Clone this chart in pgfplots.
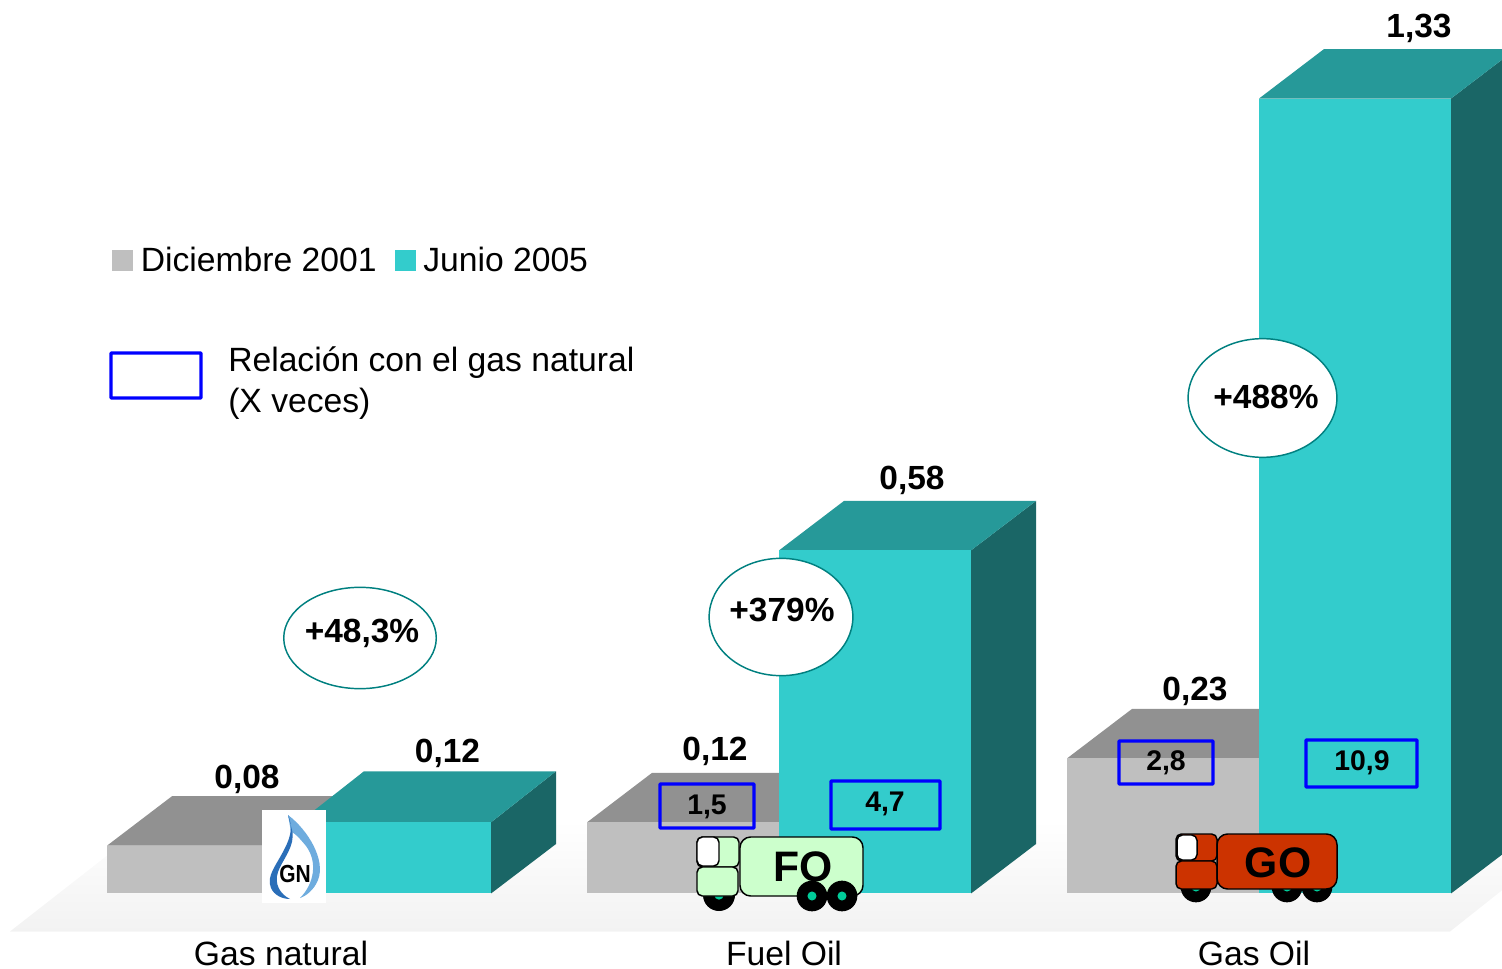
\documentclass[border=0pt]{standalone}
\usepackage{graphicx}
\usepackage{fontspec}
\setmainfont{Liberation Sans}
\usepackage{pgfplots}
\pgfplotsset{compat=1.18}
\definecolor{gfront}{HTML}{BFBFBF}
\definecolor{gtop}{HTML}{919191}
\definecolor{gside}{HTML}{808080}
\definecolor{tfront}{HTML}{33CCCC}
\definecolor{ttop}{HTML}{269999}
\definecolor{tside}{HTML}{1A6666}
\definecolor{floorc}{HTML}{F2F2F2}
\definecolor{oval}{HTML}{008080}
\definecolor{hub}{HTML}{00CC99}
\definecolor{fog}{HTML}{CCFFCC}
\definecolor{gor}{HTML}{CC3300}
\definecolor{flameL}{HTML}{6EACDE}
\definecolor{flameD}{HTML}{2A6EB8}
\newcommand{\reg}{\fontsize{25.25}{30}\selectfont}
\newcommand{\bld}{\fontsize{25.1}{30}\selectfont\bfseries}
\newcommand{\sml}{\fontsize{21.3}{25}\selectfont\bfseries}
\newcommand{\bigb}{\fontsize{32}{38}\selectfont\bfseries}
\begin{document}
\begin{tikzpicture}
\path[use as bounding box] (0,0) rectangle (1126.5pt,726.75pt);
\begin{axis}[scale only axis,width=1126.5pt,height=726.75pt,hide axis,
  xmin=0,xmax=1502,ymin=-0.12632,ymax=1.4949]
% floor
\addplot[draw=none,top color=white,bottom color=floorc] coordinates {(10,-0.0636)(1450,-0.0636)(1590,0.1221)(152,0.1221)};
% Gas natural
\addplot[draw=none,fill=gside] coordinates {(299,0)(364,0.0828)(364,0.1628)(299,0.08)};
\addplot[draw=none,fill=gtop] coordinates {(107,0.08)(299,0.08)(364,0.1628)(172,0.1628)};
\addplot[draw=none,fill=gfront] coordinates {(107,0)(299,0)(299,0.08)(107,0.08)};
\addplot[draw=none,fill=tside] coordinates {(491,0)(556,0.0828)(556,0.2045)(491,0.119)};
\addplot[draw=none,fill=ttop] coordinates {(299,0.119)(491,0.119)(556,0.2045)(364,0.2045)};
\addplot[draw=none,fill=tfront] coordinates {(299,0)(491,0)(491,0.119)(299,0.119)};
% Fuel Oil
\addplot[draw=none,fill=gtop] coordinates {(587,0.119)(779,0.119)(844,0.2018)(652,0.2018)};
\addplot[draw=none,fill=gfront] coordinates {(587,0)(779,0)(779,0.119)(587,0.119)};
\addplot[draw=none,fill=tside] coordinates {(971,0)(1036,0.0828)(1036,0.6568)(971,0.574)};
\addplot[draw=none,fill=ttop] coordinates {(779,0.574)(971,0.574)(1036,0.6568)(844,0.6568)};
\addplot[draw=none,fill=tfront] coordinates {(779,0)(971,0)(971,0.574)(779,0.574)};
% Gas Oil
\addplot[draw=none,fill=gtop] coordinates {(1067,0.226)(1259,0.226)(1324,0.3088)(1132,0.3088)};
\addplot[draw=none,fill=gfront] coordinates {(1067,0)(1259,0)(1259,0.226)(1067,0.226)};
\addplot[draw=none,fill=tside] coordinates {(1451,0)(1516,0.0828)(1516,1.4128)(1451,1.33)};
\addplot[draw=none,fill=ttop] coordinates {(1259,1.33)(1451,1.33)(1516,1.4128)(1324,1.4128)};
\addplot[draw=none,fill=tfront] coordinates {(1259,0)(1451,0)(1451,1.33)(1259,1.33)};
% value labels
\addplot[only marks,mark=none,point meta=explicit symbolic,nodes near coords,
  every node near coord/.append style={anchor=base,inner sep=0pt,font=\bld,text=black}]
 table[meta=lab] {
x y lab
247 0.1758 0,08
447.5 0.2192 0,12
715 0.2225 0,12
912 0.676 0,58
1195 0.3229 0,23
1419 1.4322 1,33
};
\end{axis}
\begin{axis}[scale only axis,width=1126.5pt,height=726.75pt,hide axis,clip=false,
  xmin=0,xmax=1502,ymin=0,ymax=969,y dir=reverse]
% legend
\fill[gfront] (112,250) rectangle (133,271);
\fill[tfront] (395,250) rectangle (416,271);
\node[anchor=base west,inner sep=0pt,font=\reg] at (140.5,272) {Diciembre 2001};
\node[anchor=base west,inner sep=0pt,font=\reg] at (423,272) {Junio 2005};
\draw[blue,line width=2.5pt,rounded corners=0.6pt] (111,353) rectangle (201,398);
\node[anchor=base west,inner sep=0pt,font=\reg] at (228,372) {Relación con el gas natural};
\node[anchor=base west,inner sep=0pt,font=\reg] at (228,413) {(X veces)};
% ovals
\draw[oval,fill=white,line width=1.1pt] (360,638) ellipse [x radius=57.2pt,y radius=38pt];
\draw[oval,fill=white,line width=1.1pt] (781,617) ellipse [x radius=53.9pt,y radius=44pt];
\draw[oval,fill=white,line width=1.1pt] (1262.5,398) ellipse [x radius=55.8pt,y radius=44.5pt];
\node[anchor=base,inner sep=0pt,font=\bld] at (362,642) {+48,3\%};
\node[anchor=base,inner sep=0pt,font=\bld] at (782,621.5) {+379\%};
\node[anchor=base,inner sep=0pt,font=\bld] at (1266,408.5) {+488\%};
% ratio boxes
\draw[blue,line width=2.5pt,rounded corners=0.6pt] (660,784) rectangle (754,828);
\draw[blue,line width=2.5pt,rounded corners=0.6pt] (831,781) rectangle (940,829);
\draw[blue,line width=2.5pt,rounded corners=0.6pt] (1119,741) rectangle (1213,784);
\draw[blue,line width=2.5pt,rounded corners=0.6pt] (1306,740) rectangle (1417,787);
\node[anchor=base,inner sep=0pt,font=\sml] at (707,814) {1,5};
\node[anchor=base,inner sep=0pt,font=\sml] at (885,811) {4,7};
\node[anchor=base,inner sep=0pt,font=\sml] at (1166,770) {2,8};
\node[anchor=base,inner sep=0pt,font=\sml] at (1362,770) {10,9};
% GN logo
\fill[white] (262,810) rectangle (326,903);
\fill[flameL]
  (288,815) .. controls (308,830) and (326,860) .. (318,880) .. controls (314,890) and (306,896) .. (300,898)
  .. controls (314,884) and (318,862) .. (306,846) .. controls (298,836) and (293,832) .. (291,832) -- cycle;
\fill[flameD]
  (288,815) .. controls (293,826) and (291,836) .. (285,848) .. controls (276,866) and (266,876) .. (271,888)
  .. controls (274,895) and (282,899) .. (290,899) .. controls (280,894) and (274,884) .. (278,872)
  .. controls (282,860) and (296,846) .. (292,830) -- cycle;
\node[inner sep=0pt,font=\fontsize{18.5}{22}\selectfont\bfseries] at (295,874) {\scalebox{0.85}[1]{GN}};
% FO truck
\fill[black] (719,895) circle[radius=12pt];
\fill[hub] (719,895) circle[radius=3.5pt];
\draw[black,line width=1.1pt,fill=fog,rounded corners=4pt] (697,837) rectangle (739,867);
\draw[black,line width=1.1pt,fill=white,rounded corners=4pt] (697,837) rectangle (719,866);
\draw[black,line width=1.1pt,fill=fog,rounded corners=4pt] (697,867) rectangle (738,896);
\draw[black,line width=1.1pt,fill=fog,rounded corners=8pt] (740,837) rectangle (863,896);
\node[anchor=base,inner sep=0pt,font=\bigb] at (803,881) {FO};
\fill[black] (812,896) circle[radius=11.5pt];
\fill[black] (842,896) circle[radius=11.5pt];
\fill[hub] (812,896) circle[radius=3.4pt];
\fill[hub] (842,896) circle[radius=3.4pt];
% GO truck
\fill[black] (1196,887) circle[radius=11.5pt];
\fill[black] (1287,887) circle[radius=11.5pt];
\fill[black] (1317,887) circle[radius=11.5pt];
\fill[hub] (1196,887) circle[radius=3.4pt];
\fill[hub] (1287,887) circle[radius=3.4pt];
\fill[hub] (1317,887) circle[radius=3.4pt];
\draw[black,line width=1.1pt,fill=gor,rounded corners=4pt] (1176,834) rectangle (1217,861);
\draw[black,line width=1.1pt,fill=white,rounded corners=4pt] (1177,835) rectangle (1197,860);
\draw[black,line width=1.1pt,fill=gor,rounded corners=4pt] (1176,861) rectangle (1217,889);
\draw[black,line width=1.1pt,fill=gor,rounded corners=8pt] (1217,834) rectangle (1337,889);
\node[anchor=base,inner sep=0pt,font=\bigb] at (1278,877) {GO};
% category labels
\node[anchor=base,inner sep=0pt,font=\reg] at (281,965.5) {Gas natural};
\node[anchor=base,inner sep=0pt,font=\reg] at (784,965.5) {Fuel Oil};
\node[anchor=base,inner sep=0pt,font=\reg] at (1254,965.5) {Gas Oil};
\end{axis}
\end{tikzpicture}
\end{document}
